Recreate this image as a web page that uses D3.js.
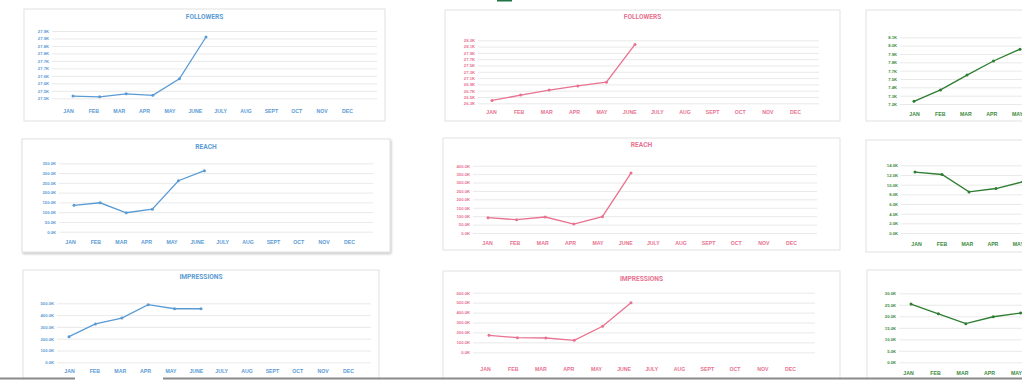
<!DOCTYPE html>
<html lang="en">
<head>
<meta charset="UTF-8">
<title>Social dashboard</title>
<script src="https://d3js.org/d3.v7.min.js"></script>
<style>
  body { margin: 0; background: #fff; }
  svg { display: block; font-family: Roboto, "Liberation Sans", sans-serif; }
  .title { font-weight: bold; font-size: 6.6px; text-anchor: middle; }
  .ylab text { font-size: 4.2px; font-weight: bold; }
  .xlab text { font-size: 5.2px; font-weight: bold; }
</style>
</head>
<body>
<div id="chart"></div>
<script>
// months on the x axis
var months = ["JAN", "FEB", "MAR", "APR", "MAY", "JUNE", "JULY", "AUG", "SEPT", "OCT", "NOV", "DEC"];

// values in K
var blueFollowers = [27.465, 27.46, 27.48, 27.47, 27.58, 27.86];
var pinkFollowers = [26.39, 26.56, 26.72, 26.85, 26.97, 28.17];
var greenFollowers = [7.236, 7.39, 7.59, 7.78, 7.94];

var blueReach = [135, 148, 97, 115, 261, 312];
var pinkReach = [91, 79, 95, 53, 97, 356];
var greenReach = [12.6, 12.1, 8.5, 9.2, 10.6];

var blueImpressions = [217, 325, 375, 488, 454, 454];
var pinkImpressions = [171, 147, 144, 121, 262, 500];
var greenImpressions = [25.3, 21.1, 16.8, 19.8, 21.4];

// tick labels, bottom to top
var blueFollowersTicks = ["27.5K", "27.5K", "27.6K", "27.6K", "27.7K", "27.7K", "27.8K", "27.8K", "27.9K", "27.9K"];
var pinkFollowersTicks = ["26.3K", "26.5K", "26.7K", "26.9K", "27.1K", "27.3K", "27.5K", "27.7K", "27.9K", "28.1K", "28.3K"];
var greenFollowersTicks = ["7.2K", "7.3K", "7.4K", "7.5K", "7.7K", "7.8K", "7.9K", "8.0K", "8.1K"];
var blueReachTicks = ["0.0K", "50.0K", "100.0K", "150.0K", "200.0K", "250.0K", "300.0K", "350.0K"];
var pinkReachTicks = ["0.0K", "50.0K", "100.0K", "150.0K", "200.0K", "250.0K", "300.0K", "350.0K", "400.0K"];
var greenReachTicks = ["0.0K", "2.0K", "4.0K", "6.0K", "8.0K", "10.0K", "12.0K", "14.0K"];
var blueImpressionsTicks = ["0.0K", "100.0K", "200.0K", "300.0K", "400.0K", "500.0K"];
var pinkImpressionsTicks = ["0.0K", "100.0K", "200.0K", "300.0K", "400.0K", "500.0K", "600.0K"];
var greenImpressionsTicks = ["0.0K", "5.0K", "10.0K", "15.0K", "20.0K", "25.0K", "30.0K"];

var BLUE = { line: "#5B9BD5", text: "#5B9BD5" };
var PINK = { line: "#E8728F", text: "#E8728F" };
var GREEN = { line: "#2E7D32", text: "#3B8B3E" };

var W = 1022, H = 380;

// layout of each panel
var charts = [
  { title: "FOLLOWERS", values: blueFollowers, ticks: blueFollowersTicks, dom: [27.45, 27.90], c: BLUE,
    box: [24, 9, 361, 112], gx: [52, 377], gy: [31, 98.3], pt: [73, 26.6], lab: [68, 347], ty: 17, ly: 111 },
  { title: "FOLLOWERS", values: pinkFollowers, ticks: pinkFollowersTicks, dom: [26.3, 28.3], c: PINK,
    box: [445, 10, 395, 111], gx: [478, 819], gy: [40.3, 103.3], pt: [492, 28.6], lab: [491, 795], ty: 17.7, ly: 112 },
  { title: "FOLLOWERS", values: greenFollowers, ticks: greenFollowersTicks, dom: [7.2, 8.1], c: GREEN,
    box: [866, 10, 400, 111], gx: [900, 1240], gy: [37.3, 104], pt: [914, 26.5], lab: [914, 1197], ty: 18, ly: 114 },

  { title: "REACH", values: blueReach, ticks: blueReachTicks, dom: [0, 350], c: BLUE, shadow: true,
    box: [22, 139, 368, 113], gx: [59, 373], gy: [163.3, 231.7], pt: [74, 26.1], lab: [70, 349], ty: 147, ly: 242 },
  { title: "REACH", values: pinkReach, ticks: pinkReachTicks, dom: [0, 400], c: PINK,
    box: [443, 138, 397, 112], gx: [473, 817], gy: [165.7, 233], pt: [488, 28.6], lab: [487, 791], ty: 145.7, ly: 243 },
  { title: "REACH", values: greenReach, ticks: greenReachTicks, dom: [0, 14], c: GREEN,
    box: [866, 140, 400, 112], gx: [901, 1240], gy: [165.3, 233], pt: [915, 27], lab: [916, 1196], ty: 148, ly: 244 },

  { title: "IMPRESSIONS", values: blueImpressions, ticks: blueImpressionsTicks, dom: [0, 500], c: BLUE,
    box: [23, 270, 356, 115], gx: [57, 371], gy: [303.3, 362.3], pt: [69, 26.4], lab: [69, 348], ty: 277, ly: 371 },
  { title: "IMPRESSIONS", values: pinkImpressions, ticks: pinkImpressionsTicks, dom: [0, 600], c: PINK,
    box: [443, 271, 397, 115], gx: [473, 815], gy: [292.7, 352.3], pt: [489, 28.4], lab: [485, 790], ty: 279.7, ly: 369 },
  { title: "IMPRESSIONS", values: greenImpressions, ticks: greenImpressionsTicks, dom: [0, 30], c: GREEN,
    box: [867, 270, 400, 115], gx: [899, 1240], gy: [293.3, 362.3], pt: [911, 27.4], lab: [908, 1205], ty: 278, ly: 373 }
];

var svg = d3.select("#chart").append("svg")
  .attr("width", W)
  .attr("height", H);

var defs = svg.append("defs");
var f = defs.append("filter").attr("id", "shadow")
  .attr("x", "-5%").attr("y", "-5%").attr("width", "110%").attr("height", "115%");
f.append("feDropShadow").attr("dx", 1).attr("dy", 1.5).attr("stdDeviation", 1)
  .attr("flood-color", "#000").attr("flood-opacity", 0.25);

svg.append("rect").attr("width", W).attr("height", H).attr("fill", "#fff");

charts.forEach(function(ch) {
  var g = svg.append("g");

  // panel
  g.append("rect")
    .attr("x", ch.box[0]).attr("y", ch.box[1])
    .attr("width", ch.box[2]).attr("height", ch.box[3])
    .attr("fill", "#fff")
    .attr("stroke", "#d9d9d9")
    .attr("stroke-width", 0.8)
    .attr("filter", ch.shadow ? "url(#shadow)" : null);

  // titles of the panels cut by the window edge are not visible
  var tx = ch.box[0] + ch.box[2] / 2;
  if (tx < W - 20) {
    g.append("text")
      .attr("class", "title")
      .attr("x", tx)
      .attr("y", ch.ty)
      .attr("dominant-baseline", "middle")
      .attr("fill", ch.c.text)
      .text(ch.title);
  }

  var y = d3.scaleLinear().domain(ch.dom).range([ch.gy[1], ch.gy[0]]);
  var n = ch.ticks.length;
  var tickVals = d3.range(n).map(function(i) { return ch.dom[0] + i * (ch.dom[1] - ch.dom[0]) / (n - 1); });

  var yAxis = d3.axisLeft(y)
    .tickValues(tickVals)
    .tickSize(-(ch.gx[1] - ch.gx[0]))
    .tickPadding(3)
    .tickFormat(function(d, i) { return ch.ticks[i]; });

  var ya = g.append("g")
    .attr("class", "ylab")
    .attr("transform", "translate(" + ch.gx[0] + ",0)")
    .call(yAxis);
  ya.select(".domain").remove();
  ya.selectAll("line").attr("stroke", "#e3e3e3").attr("stroke-width", 0.8);
  ya.selectAll("text").attr("fill", ch.c.text);

  // month labels (only those that fall inside the window)
  var xl = d3.scalePoint().domain(months).range(ch.lab);
  var shown = months.filter(function(m) { return xl(m) < W; });
  var xa = g.append("g")
    .attr("class", "xlab")
    .attr("transform", "translate(0," + (ch.ly - 2) + ")")
    .call(d3.axisBottom(xl).tickValues(shown).tickSize(0).tickPadding(0));
  xa.select(".domain").remove();
  xa.selectAll("text").attr("fill", ch.c.text);

  // data points
  var xp = d3.scalePoint().domain(months).range([ch.pt[0], ch.pt[0] + 11 * ch.pt[1]]);
  var pts = ch.values.map(function(v, i) { return { m: months[i], v: v }; });

  var line = d3.line()
    .x(function(d) { return xp(d.m); })
    .y(function(d) { return y(d.v); });

  g.append("path")
    .datum(pts)
    .attr("d", line)
    .attr("fill", "none")
    .attr("stroke", ch.c.line)
    .attr("stroke-width", 1.3);

  g.selectAll(".dot")
    .data(pts)
    .enter().append("circle")
    .attr("cx", function(d) { return xp(d.m); })
    .attr("cy", function(d) { return y(d.v); })
    .attr("r", 1.5)
    .attr("fill", ch.c.line);
});

// spreadsheet bits around the charts
svg.append("rect").attr("x", 497).attr("y", 0).attr("width", 15).attr("height", 1.5).attr("fill", "#217346");
svg.append("rect").attr("x", 0).attr("y", 377.5).attr("width", 75).attr("height", 2).attr("fill", "#8a8a8a");
svg.append("rect").attr("x", 163).attr("y", 377.5).attr("width", 859).attr("height", 2).attr("fill", "#8a8a8a");
</script>
</body>
</html>
